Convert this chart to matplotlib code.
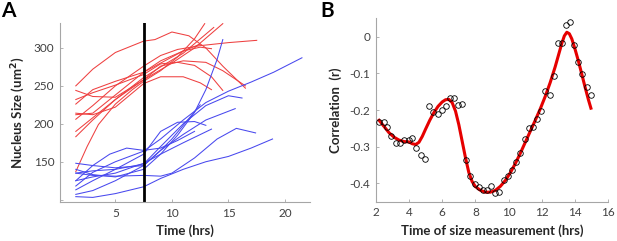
import numpy as np
import matplotlib.pyplot as plt

plt.rcParams['font.family'] = ['Lato', 'DejaVu Sans']

# ---------------- panel A: nucleus size traces ----------------
red_traces = [
    ([1.5, 3, 5, 7.5, 8.5, 10, 11.5, 13, 14.5, 16.5],
     [250, 272, 294, 309, 311, 321, 316, 300, 276, 247]),
    ([1.5, 3, 5, 7.5, 9, 10.5, 12.5, 15, 17.5],
     [206, 224, 250, 276, 290, 298, 303, 307, 310]),
    ([1.5, 2.5, 3.5, 5, 6.5, 7.5, 9, 10.5, 12, 12.9],
     [137, 170, 199, 226, 245, 256, 270, 288, 312, 332]),
    ([1.5, 3, 5, 7.5, 10, 12, 14.5],
     [183, 205, 232, 258, 280, 300, 332]),
    ([1.5, 3, 5, 7.5, 9, 11, 13.7],
     [190, 208, 232, 261, 275, 293, 327]),
    ([1.5, 3, 5, 7.5, 9, 11, 13, 14.5, 16.5],
     [244, 236, 235, 258, 276, 283, 281, 270, 250]),
    ([1.5, 3, 5, 7.5, 9, 10.5, 12, 13.5, 14.5],
     [232, 241, 251, 265, 279, 281, 277, 262, 244]),
    ([1.5, 3, 5, 7.5, 9, 11, 12.5, 13.5],
     [214, 212, 222, 253, 262, 262, 254, 245]),
    ([1.5, 3, 5, 7.5, 9, 11, 12.5, 13.5],
     [226, 245, 256, 268, 283, 296, 301, 299]),
    ([1.5, 3, 5, 7.5, 9, 11, 12.5],
     [212, 214, 238, 268, 280, 296, 305]),
]

blue_traces = [
    ([1.5, 3, 5, 7.5, 9, 10.5, 12, 13, 14, 14.5],
     [125, 130, 135, 148, 160, 185, 215, 245, 285, 311]),
    ([1.5, 3, 5, 7.5, 9, 11, 13, 15, 17, 19, 21.5],
     [118, 136, 150, 164, 180, 205, 228, 243, 255, 268, 287]),
    ([1.5, 3, 5, 7.5, 9, 11, 13, 15, 16.2],
     [135, 138, 140, 147, 170, 200, 224, 237, 234]),
    ([1.5, 3, 5, 7.5, 9, 11, 13, 15.6],
     [107, 112, 125, 145, 165, 186, 205, 220]),
    ([1.5, 3, 5, 7.5, 9, 10.5, 12, 13],
     [113, 125, 140, 160, 190, 202, 203, 198]),
    ([1.5, 3, 5, 7.5, 9, 11, 13.5],
     [140, 133, 130, 140, 160, 175, 193]),
    ([1.5, 3, 5, 7.5, 9, 10, 12, 14, 15.7, 17.4],
     [135, 132, 131, 132, 131, 135, 155, 180, 194, 188]),
    ([1.5, 3, 5, 7.5, 9, 11, 13, 15, 17, 18.9],
     [104, 103, 108, 117, 128, 140, 150, 157, 168, 180]),
    ([1.5, 3, 4.5, 6, 7.5, 9, 10.5, 12],
     [125, 145, 160, 168, 165, 168, 178, 190]),
    ([1.5, 3, 5, 7.5, 9, 10, 11, 12.5],
     [148, 145, 142, 145, 165, 180, 198, 225]),
]

t_cut = 7.5

# ---------------- panel B: correlation vs time ----------------
t_meas = [2.22, 2.5, 2.7, 2.94, 3.2, 3.46, 3.72, 3.98, 4.2, 4.42, 4.7, 4.96,
          5.2, 5.46, 5.72, 5.96, 6.2, 6.46, 6.72, 6.96, 7.22, 7.46, 7.7, 7.96,
          8.22, 8.46, 8.7, 8.95, 9.2, 9.44, 9.7, 9.96, 10.21, 10.47, 10.71,
          10.97, 11.21, 11.47, 11.71, 11.97, 12.21, 12.47, 12.71, 12.95, 13.21,
          13.43, 13.71, 13.93, 14.19, 14.43, 14.7, 14.97]
corr = [-0.233, -0.233, -0.246, -0.272, -0.290, -0.290, -0.281, -0.281,
        -0.276, -0.303, -0.324, -0.333, -0.190, -0.206, -0.210, -0.199,
        -0.190, -0.168, -0.168, -0.187, -0.184, -0.335, -0.380, -0.401,
        -0.409, -0.419, -0.417, -0.408, -0.426, -0.424, -0.390, -0.380,
        -0.364, -0.341, -0.317, -0.279, -0.249, -0.245, -0.224, -0.204,
        -0.147, -0.159, -0.107, -0.018, -0.018, 0.032, 0.041, -0.023,
        -0.068, -0.101, -0.138, -0.160]

fit_t = [2.2, 2.5, 2.8, 3.1, 3.4, 3.7, 4.0, 4.2, 4.4, 4.6, 4.8, 5.0, 5.25,
         5.5, 5.75, 6.0, 6.2, 6.4, 6.6, 6.8, 7.0, 7.2, 7.4, 7.6, 7.8, 8.0,
         8.3, 8.6, 8.9, 9.2, 9.5, 9.8, 10.1, 10.4, 10.7, 11.0, 11.3, 11.6,
         11.9, 12.2, 12.5, 12.8, 13.0, 13.2, 13.35, 13.5, 13.65, 13.8, 14.0,
         14.2, 14.4, 14.6, 14.8, 14.95]
fit_r = [-0.228, -0.245, -0.262, -0.274, -0.282, -0.286, -0.287, -0.292,
         -0.294, -0.288, -0.272, -0.252, -0.228, -0.207, -0.190, -0.178,
         -0.172, -0.171, -0.180, -0.203, -0.240, -0.285, -0.330, -0.370,
         -0.395, -0.409, -0.419, -0.424, -0.424, -0.419, -0.408, -0.392,
         -0.371, -0.346, -0.318, -0.288, -0.258, -0.228, -0.197, -0.163,
         -0.125, -0.082, -0.050, -0.018, 0.002, 0.012, 0.008, -0.006,
         -0.035, -0.067, -0.102, -0.138, -0.172, -0.195]

# -------------------------------------------------------------
fig = plt.figure(figsize=(6.17, 2.41), dpi=100)
axA = fig.add_axes([0.0972, 0.162, 0.405, 0.743])
axB = fig.add_axes([0.609, 0.163, 0.377, 0.761])

def style(ax):
    for s in ['top', 'right']:
        ax.spines[s].set_visible(False)
    for s in ['left', 'bottom']:
        ax.spines[s].set_color('#a6a6a6')
        ax.spines[s].set_linewidth(0.8)
    ax.tick_params(direction='in', length=2.5, width=0.6, color='#a6a6a6',
                   labelsize=8.5, labelcolor='#404040', pad=4)

for xs, ys in red_traces:
    axA.plot(xs, ys, color='#ee4040', lw=0.75)
for xs, ys in blue_traces:
    axA.plot(xs, ys, color='#4848ee', lw=0.75)
axA.axvline(t_cut, color='black', lw=2)
axA.set_xlim(0.1, 22.2)
axA.set_ylim(97, 333)
axA.set_xticks([5, 10, 15, 20])
axA.set_yticks([100, 150, 200, 250, 300])
axA.set_yticklabels(['', '150', '200', '250', '300'])
style(axA)
axA.set_xlabel('Time (hrs)', fontsize=9.5, fontweight='bold', color='#262626', labelpad=4)
axA.set_ylabel('Nucleus Size (um$^\\mathbf{2}$)', fontsize=9.5, fontweight='bold', color='#262626', labelpad=5)

axB.plot(fit_t, fit_r, color='#e60000', lw=2.2, zorder=2)
axB.plot(t_meas, corr, 'o', mfc='none', mec='black', mew=0.6, ms=4, zorder=3)
axB.set_xlim(2, 16)
axB.set_ylim(-0.45, 0.05)
axB.set_xticks(range(2, 17, 2))
axB.set_yticks([-0.4, -0.3, -0.2, -0.1, 0])
axB.set_yticklabels(['-0.4', '-0.3', '-0.2', '-0.1', '0'])
style(axB)
axB.set_xlabel('Time of size measurement (hrs)', fontsize=9.5, fontweight='bold', color='#262626', labelpad=4)
axB.set_ylabel('Correlation  (r)', fontsize=9.5, fontweight='bold', color='#262626', labelpad=5)

fig.text(0.002, 0.995, 'A', fontsize=15, fontweight='bold', va='top', ha='left')
fig.text(0.52, 0.995, 'B', fontsize=15, fontweight='bold', va='top', ha='left')

fig.savefig('out.png', dpi=100)
